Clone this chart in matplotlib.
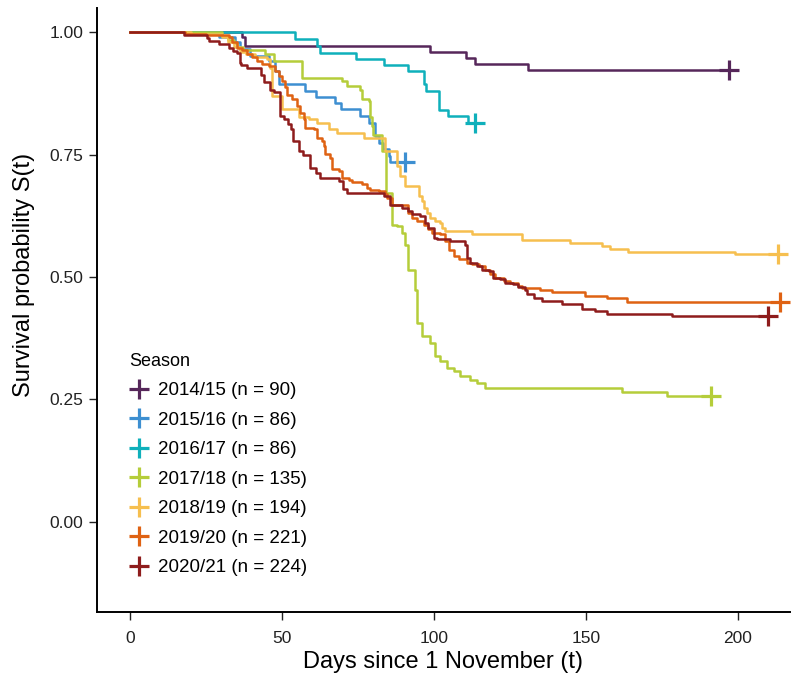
import matplotlib as mpl
mpl.use('Agg')
from matplotlib import pyplot as plt

plt.rcParams['font.family'] = ['Liberation Sans', 'DejaVu Sans']

seasons = ['2014/15', '2015/16', '2016/17', '2017/18', '2018/19', '2019/20', '2020/21']
n_obs = [90, 86, 86, 135, 194, 221, 224]
colors = ['#56275a', '#3d8fd1', '#0fb0bb', '#b5cd3a', '#f6bf4f', '#df6213', '#8e1c1c']

# step times (days) and survival after each step
t_1415 = [0, 36.7, 37.8, 98.5, 110.5, 113.5, 131]
s_1415 = [1.0, 0.99, 0.973, 0.96, 0.948, 0.936, 0.923]

t_1516 = [0, 29, 34.5, 36.2, 39.5, 45.5, 47.7, 48.8, 57.6, 61.2, 67.4, 69.4,
          75.4, 78.4, 80.6, 81.7, 83, 85, 85.5]
s_1516 = [1.0, 0.99, 0.98, 0.966, 0.952, 0.942, 0.922, 0.894, 0.881, 0.868, 0.855, 0.843,
          0.828, 0.815, 0.788, 0.774, 0.761, 0.747, 0.735]

t_1617 = [0, 54.3, 61.4, 62.3, 74.3, 83.3, 91.5, 96.5, 97.4, 101.4, 104.5, 111]
s_1617 = [1.0, 0.986, 0.973, 0.958, 0.946, 0.933, 0.92, 0.894, 0.881, 0.841, 0.828, 0.815]

t_1718 = [0, 30, 32, 34, 35, 37, 44.4, 47.1, 56.5, 69.6, 71.3, 75.7, 76.2, 78.4,
          79, 79.5, 80, 82.8, 84.2, 86.1, 87.7, 89.4, 90.5, 91.5, 93.8, 94.3, 96,
          98.7, 100.3, 102, 104.2, 106.4, 108.6, 111.8, 114, 116.8, 161.7, 176.5]
s_1718 = [1.0, 0.993, 0.985, 0.978, 0.97, 0.964, 0.956, 0.942, 0.907, 0.9, 0.89, 0.882, 0.863, 0.86,
          0.826, 0.808, 0.791, 0.757, 0.672, 0.607, 0.604, 0.59, 0.566, 0.515, 0.474, 0.406, 0.379,
          0.365, 0.338, 0.328, 0.314, 0.307, 0.297, 0.29, 0.284, 0.273, 0.264, 0.256]

t_1819 = [0, 20, 30, 32, 34, 36, 38, 41, 45, 46, 46.5, 49.9, 55.4, 58.7, 61.4, 65.2,
          68, 76.8, 83.9, 87.7, 88.8, 90.5, 94.9, 96, 96.5, 97.6, 98.7, 100.3, 102,
          102.5, 103.6, 112.4, 128.8, 144.7, 155.2, 157.9, 163.9, 199]
s_1819 = [1.0, 0.997, 0.99, 0.98, 0.97, 0.96, 0.955, 0.95, 0.946, 0.928, 0.87, 0.843, 0.826, 0.822, 0.815, 0.802,
          0.795, 0.785, 0.757, 0.727, 0.706, 0.686, 0.665, 0.655, 0.641, 0.631, 0.621, 0.614, 0.611,
          0.601, 0.594, 0.587, 0.575, 0.57, 0.564, 0.558, 0.552, 0.546]

t_1920 = [0, 18, 25, 32.3, 33.4, 35.1, 36.7, 38.4, 40, 41.7, 43.3, 45.5, 47.7, 48.8,
          49.9, 51, 51.5, 53.2, 54.8, 55.9, 57, 57.6, 60.3, 61.4, 63, 63.6, 64.1, 65.8,
          66.3, 68.5, 69.6, 71.8, 72.9, 76.2, 77.9, 79, 81.7, 83.9, 84.4, 86.1, 91.5,
          92.7, 94.3, 96.5, 98.1, 99.2, 102, 103.6, 104.7, 106.4, 108, 110.8, 112.4,
          114.6, 116.8, 118.4, 120, 122.8, 125, 127.7, 128.8, 134.9, 138.7, 149.7,
          156.8, 163.4]
s_1920 = [1.0, 0.997, 0.994, 0.99, 0.98, 0.969, 0.963, 0.956, 0.949, 0.942, 0.935, 0.932, 0.922, 0.911,
          0.901, 0.888, 0.871, 0.864, 0.85, 0.836, 0.822, 0.805, 0.802, 0.785, 0.778, 0.767, 0.751, 0.744,
          0.72, 0.716, 0.703, 0.699, 0.694, 0.691, 0.682, 0.678, 0.675, 0.669, 0.662, 0.648, 0.631,
          0.621, 0.614, 0.607, 0.597, 0.59, 0.587, 0.573, 0.556, 0.543, 0.536, 0.529, 0.526,
          0.522, 0.515, 0.505, 0.498, 0.491, 0.488, 0.481, 0.478, 0.473, 0.469, 0.462,
          0.456, 0.449]

t_2021 = [0, 17.5, 25.2, 26, 29, 32.3, 33.9, 35, 36, 36.5, 38.2, 43, 44, 46, 47.1,
          49.3, 50.4, 51.7, 53, 53.5, 55.4, 56.8, 59.2, 61.2, 62.5, 68.5, 70, 71.3,
          83.3, 85.5, 89.4, 91.5, 92.7, 95.4, 97, 98.1, 99.8, 100.9, 105.3, 110,
          110.8, 111.8, 114, 115.7, 117.9, 119.5, 121.7, 123.4, 126, 127.7, 130,
          130.5, 132.7, 135.4, 142, 148.6, 153, 156.8, 178.2]
s_2021 = [1.0, 0.994, 0.989, 0.982, 0.977, 0.967, 0.962, 0.958, 0.938, 0.933, 0.928, 0.912, 0.898, 0.883, 0.878,
          0.829, 0.822, 0.812, 0.802, 0.778, 0.757, 0.75, 0.723, 0.712, 0.703, 0.696, 0.679, 0.672,
          0.665, 0.648, 0.641, 0.635, 0.628, 0.624, 0.611, 0.601, 0.58, 0.577, 0.573, 0.566,
          0.539, 0.529, 0.522, 0.515, 0.512, 0.498, 0.495, 0.488, 0.485, 0.48, 0.474,
          0.466, 0.456, 0.45, 0.445, 0.435, 0.43, 0.425, 0.42]

last_time = [197, 90.5, 113.5, 191, 213.3, 213.8, 210]

times = [t_1415, t_1516, t_1617, t_1718, t_1819, t_1920, t_2021]
survs = [s_1415, s_1516, s_1617, s_1718, s_1819, s_1920, s_2021]

fig = plt.figure(figsize=(7.98, 6.75), dpi=100)
ax = fig.add_axes([0.1216, 0.0933, 0.868, 0.895])

for name, n, col, t, s, tend in zip(seasons, n_obs, colors, times, survs, last_time):
    assert len(t) == len(s)
    ax.step(t + [tend], s + [s[-1]], where='post', color=col, lw=1.8)
    ax.plot([tend], [s[-1]], marker='+', color=col, ms=14, mew=2.3, ls='none',
            label=f'{name} (n = {n})')

ax.set_xlim(-11, 217)
ax.set_ylim(-0.185, 1.05)
ax.set_xticks([0, 50, 100, 150, 200])
ax.set_yticks([0, 0.25, 0.5, 0.75, 1.0])
ax.set_yticklabels(['0.00', '0.25', '0.50', '0.75', '1.00'])
ax.spines['top'].set_visible(False)
ax.spines['right'].set_visible(False)
ax.spines['left'].set_linewidth(1.4)
ax.spines['bottom'].set_linewidth(1.4)
ax.tick_params(direction='out', length=6, width=1, labelsize=12.5, colors='#222222')
ax.tick_params(axis='x', pad=8)
ax.tick_params(axis='y', pad=4)
ax.set_xlabel('Days since 1 November (t)', fontsize=17, labelpad=3)
ax.set_ylabel('Survival probability S(t)', fontsize=17)
ax.yaxis.set_label_coords(-0.09, 0.558)

leg = ax.legend(title='Season', loc='lower left', bbox_to_anchor=(0.036, 0.047),
                frameon=False, fontsize=13.5, title_fontsize=13, alignment='left',
                handlelength=1.0, handletextpad=0.5, labelspacing=0.66, borderaxespad=0)

fig.savefig('out.png', dpi=100)
